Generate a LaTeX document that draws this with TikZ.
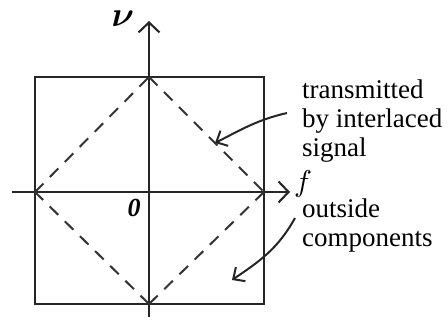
\documentclass[tikz,border=0pt]{standalone}
\usepackage{amsmath}
\usepackage{fontspec}
\setmainfont{Liberation Serif}
\usetikzlibrary{arrows.meta}

\begin{document}
\begin{tikzpicture}[x=1pt, y=1pt,
  frame/.style={black!85, line width=2.4pt},
  axis/.style={black!85, line width=2.1pt, -{Straight Barb[length=10pt, width=21pt]}},
  diag/.style={black!80, line width=2pt, dash pattern=on 12pt off 9.2pt},
  callout/.style={black!85, line width=2pt, -{Straight Barb[length=9pt, width=17pt]}},
  lbl/.style={font=\fontsize{27}{29}\selectfont, align=left, inner sep=0pt}]
\useasboundingbox (0,0) rectangle (448,320);
% square and axes
\coordinate (sw) at (35,16);
\coordinate (ne) at (264,243);
\draw[frame] (sw) rectangle (ne);
\coordinate (xl) at (12,128);
\coordinate (xr) at (290,128);
\coordinate (yb) at (149,3);
\coordinate (yt) at (149,299);
\draw[axis] (xl) -- (xr);
\draw[axis] (yb) -- (yt);
% diamond
\coordinate (top) at (149,243);
\coordinate (right) at (264,128);
\coordinate (bot) at (149,16);
\coordinate (left) at (35,128);
\draw[diag] (left) -- (top);
\draw[diag] (top) -- (right);
\draw[diag] (right) -- (bot);
\draw[diag] (bot) -- (left);
% labels
\node[inner sep=0pt] (nu) at (123,301) {\scalebox{3.5}{$\boldsymbol{\nu}$}};
\node[inner sep=0pt] (flbl) at (303,136) {\scalebox{3}{$f$}};
\node[inner sep=0pt] (orig) at (134,112) {\scalebox{2.6}{\textit{\textbf{0}}}};
\node[lbl, anchor=north west] (txt1) at (302,240.5) {transmitted\\by interlaced\\signal};
\node[lbl, anchor=north west] (txt2) at (302,121.5) {outside\\components};
% callouts
\coordinate (c1s) at (287,207);
\coordinate (c1e) at (215,177);
\draw[callout] (c1s) to[out=193, in=27] (c1e);
\coordinate (c2s) at (295,102);
\coordinate (c2e) at (232,40);
\draw[callout] (c2s) to[out=241, in=34] (c2e);
\end{tikzpicture}
\end{document}
